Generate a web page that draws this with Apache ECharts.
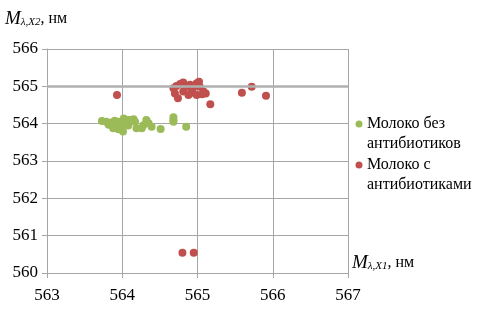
<!DOCTYPE html>
<html><head><meta charset="utf-8">
<script src="https://cdn.jsdelivr.net/npm/echarts@6/dist/echarts.min.js"></script>
<style>html,body{margin:0;padding:0;background:#fff}#c{width:480px;height:309px}</style>
</head><body><div id="c"></div>
<script>
const seriesNames = ['Молоко без антибиотиков', 'Молоко с антибиотиками'];
const legendLines = [['Молоко без', 'антибиотиков'], ['Молоко с', 'антибиотиками']];
const xTicks = [563, 564, 565, 566, 567];
const yTicks = [560, 561, 562, 563, 564, 565, 566];
const greenPoints = [
  [563.73,564.07],[563.79,564.05],[563.86,564.03],[563.88,563.88],[563.93,564.01],
  [563.97,564.05],[563.99,563.92],[564.01,563.79],[564.04,564.01],[564.06,564.10],
  [564.10,564.10],[564.15,564.12],[564.17,564.05],[564.19,563.88],[564.26,563.88],
  [564.28,563.96],[564.32,564.10],[564.35,564.01],[564.39,563.92],[564.51,563.86],
  [564.68,564.17],[564.68,564.05],[564.85,563.92],[563.82,563.97],[563.95,563.85],
  [564.02,564.14],[564.08,563.95],[563.90,564.08],[564.68,564.10]
];
const redPoints = [
  [564.68,564.95],[564.72,565.01],[564.77,565.06],[564.81,565.10],[564.86,564.99],
  [564.90,565.04],[564.94,564.95],[564.99,565.08],[565.02,565.12],[565.03,564.99],
  [565.08,564.86],[565.11,564.81],[564.70,564.81],[564.74,564.68],[564.81,564.86],
  [564.88,564.77],[564.92,564.83],[564.99,564.77],[565.06,564.79],[565.17,564.52],
  [565.59,564.83],[565.72,564.99],[565.91,564.75],[563.93,564.77],
  [564.80,560.54],[564.95,560.54]
];
const colors = ['#9bbb59', '#c0504d'];
const font = 'Liberation Serif';

const legendTop = [124, 165];
const legendGraphics = [];
legendLines.forEach((lines, i) => {
  legendGraphics.push({type: 'circle', shape: {cx: 359, cy: legendTop[i], r: 3.5}, style: {fill: colors[i]}});
  legendGraphics.push({type: 'text', x: 367, y: legendTop[i] - 10, style: {
    text: lines.join('\n'), fontSize: 16, fontFamily: font, lineHeight: 20, fill: '#000'}});
});
const richName = {
  m: {fontFamily: font, fontStyle: 'italic', fontSize: 19, fill: '#000'},
  s: {fontFamily: font, fontStyle: 'italic', fontSize: 11, fill: '#000', padding: [8,0,0,0]},
  n: {fontFamily: font, fontSize: 16, fill: '#000'}
};

const chart = echarts.init(document.getElementById('c'));
chart.setOption({
  animation: false,
  grid: {left: 47, right: 132, top: 49, bottom: 36},
  xAxis: {
    type: 'value', min: xTicks[0], max: xTicks[xTicks.length-1], interval: 1,
    axisLine: {show: true, lineStyle: {color: '#a6a6a6'}},
    axisTick: {show: true, length: 5, lineStyle: {color: '#a6a6a6'}},
    splitLine: {show: true, lineStyle: {color: '#a6a6a6'}},
    axisLabel: {color: '#000', fontSize: 17, fontFamily: font, margin: 14}
  },
  yAxis: {
    type: 'value', min: yTicks[0], max: yTicks[yTicks.length-1], interval: 1,
    axisLine: {show: true, lineStyle: {color: '#a6a6a6'}},
    axisTick: {show: true, length: 5, lineStyle: {color: '#a6a6a6'}},
    splitLine: {show: true, lineStyle: {color: '#a6a6a6'}},
    axisLabel: {color: '#000', fontSize: 17, fontFamily: font, margin: 9}
  },
  legend: {show: false, data: seriesNames},
  graphic: [
    {type: 'text', left: 5, top: 9, style: {text: '{m|M}{s|λ,X2}{n|, нм}', rich: richName}},
    {type: 'text', left: 352, top: 253, style: {text: '{m|M}{s|λ,X1}{n|, нм}', rich: richName}}
  ].concat(legendGraphics),
  series: [
    {name: seriesNames[0], type: 'scatter', data: greenPoints, symbolSize: 8,
     itemStyle: {color: colors[0], opacity: 1},
     markLine: {silent: true, symbol: 'none', label: {show: false},
       lineStyle: {color: '#b0b0b0', width: 2.5, type: 'solid'}, data: [{yAxis: 565}]}},
    {name: seriesNames[1], type: 'scatter', data: redPoints, symbolSize: 8,
     itemStyle: {color: colors[1], opacity: 1}}
  ]
});
</script></body></html>
